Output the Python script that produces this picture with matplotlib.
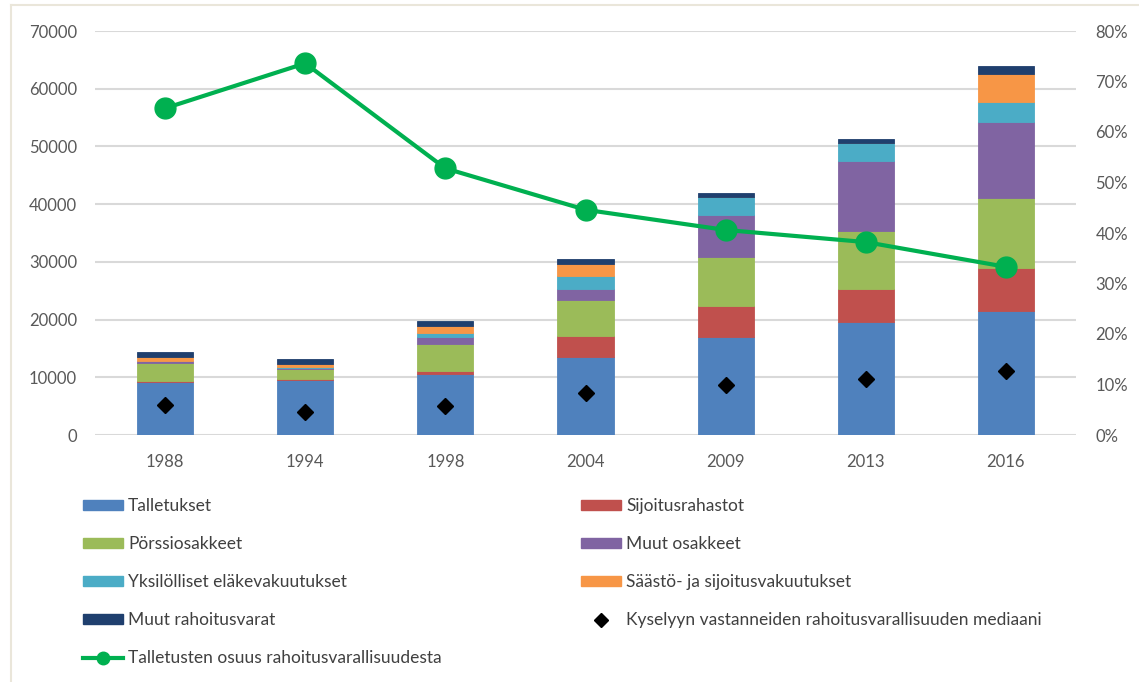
import matplotlib
matplotlib.use("Agg")
import matplotlib.pyplot as plt
from matplotlib.lines import Line2D
from matplotlib.patches import Patch
from matplotlib.ticker import FuncFormatter

plt.rcParams['font.family'] = ['Lato', 'DejaVu Sans']

years = ['1988', '1994', '1998', '2004', '2009', '2013', '2016']

# euroa, pinottavat osat
talletukset = [9250, 9600, 10500, 13500, 17000, 19650, 21500]
sijoitusrahastot = [50, 100, 590, 3700, 5400, 5650, 7400]
porssiosakkeet = [3250, 1800, 4630, 6130, 8500, 10060, 12240]
muut_osakkeet = [200, 150, 1260, 1960, 7230, 12130, 13170]
elakevakuutukset = [150, 200, 700, 2310, 3170, 3170, 3460]
saastovakuutukset = [600, 500, 1160, 1970, 0, 0, 4800]
muut_varat = [900, 750, 920, 970, 640, 640, 1440]

mediaani = [5200, 4040, 5030, 7220, 8670, 9650, 11140]
talletus_osuus = [64.7, 73.6, 52.8, 44.6, 40.6, 38.2, 33.3]

series = [
    ('Talletukset', talletukset, '#4F81BD'),
    ('Sijoitusrahastot', sijoitusrahastot, '#C0504D'),
    ('Pörssiosakkeet', porssiosakkeet, '#9BBB59'),
    ('Muut osakkeet', muut_osakkeet, '#8064A2'),
    ('Yksilölliset eläkevakuutukset', elakevakuutukset, '#4BACC6'),
    ('Säästö- ja sijoitusvakuutukset', saastovakuutukset, '#F79646'),
    ('Muut rahoitusvarat', muut_varat, '#1F3F6E'),
]

txt = '#595959'
fig = plt.figure(figsize=(11.39, 6.82), dpi=100)
ax = fig.add_axes([95/1139, 1-435/682, (1076-95)/1139, (435-31)/682])

x = list(range(len(years)))
bottom = [0]*len(years)
for name, vals, col in series:
    ax.bar(x, vals, width=0.4, bottom=bottom, color=col, edgecolor=col,
           linewidth=0.6, zorder=2)
    bottom = [b+v for b, v in zip(bottom, vals)]

ax.plot(x, mediaani, linestyle='none', marker='D', markersize=8.5,
        color='black', zorder=4)

ax.set_xlim(-0.5, len(years)-0.5)
ax.set_ylim(0, 70000)
ax.set_yticks(range(0, 70001, 10000))
ax.set_xticks(x)
ax.set_xticklabels(years)
ax.grid(axis='y', color='#D9D9D9', linewidth=1.5, zorder=0)
ax.set_axisbelow(True)
for s in ax.spines.values():
    s.set_visible(False)
ax.tick_params(axis='y', length=0, pad=13, labelsize=12, labelcolor=txt)
ax.tick_params(axis='x', length=0, pad=14, labelsize=12, labelcolor=txt)

ax2 = ax.twinx()
ax2.plot(x, talletus_osuus, color='#00B050', linewidth=3, marker='o',
         markersize=15, zorder=5)
ax2.set_ylim(0, 80)
ax2.set_yticks(range(0, 81, 10))
ax2.yaxis.set_major_formatter(FuncFormatter(lambda v, p: '%d%%' % v))
for s in ax2.spines.values():
    s.set_visible(False)
ax2.tick_params(axis='y', length=0, pad=14, labelsize=12, labelcolor=txt)

# legend, two columns
h = {name: Patch(facecolor=col, edgecolor=col) for name, vals, col in series}
h_med = Line2D([], [], linestyle='none', marker='D', markersize=7, color='black')
h_line = Line2D([], [], color='#00B050', linewidth=3, marker='o', markersize=9)

col1 = ['Talletukset', 'Pörssiosakkeet', 'Yksilölliset eläkevakuutukset',
        'Muut rahoitusvarat']
col2 = ['Sijoitusrahastot', 'Muut osakkeet', 'Säästö- ja sijoitusvakuutukset']
med_label = 'Kyselyyn vastanneiden rahoitusvarallisuuden mediaani'
line_label = 'Talletusten osuus rahoitusvarallisuudesta'

kw = dict(loc='upper left', frameon=False, fontsize=12.5, handlelength=2.3,
          handleheight=0.5, handletextpad=0.3, labelspacing=1.27,
          borderpad=0, borderaxespad=0, labelcolor='#404040')
fig.legend([h[n] for n in col1] + [h_line], col1 + [line_label],
           bbox_to_anchor=(83/1139, 1-498/682), **kw)
fig.legend([h[n] for n in col2] + [h_med], col2 + [med_label],
           bbox_to_anchor=(581/1139, 1-498/682), **kw)

# thin chart border
fig.add_artist(Line2D([11/1139, 11/1139], [0, 1-5/682], color='#EAE6DA', linewidth=1.5))
fig.add_artist(Line2D([11/1139, 1], [1-5/682, 1-5/682], color='#EAE6DA', linewidth=1.5))

fig.savefig('out.png', dpi=100)
